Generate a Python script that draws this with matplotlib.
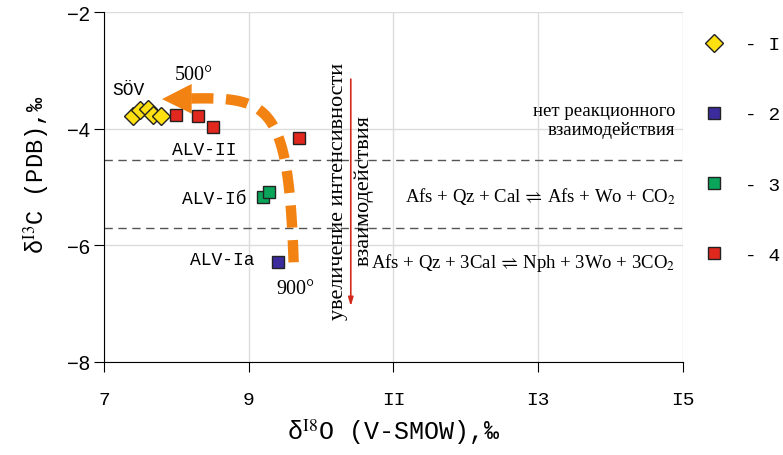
import numpy as np
import matplotlib
matplotlib.use("Agg")
import matplotlib.pyplot as plt
from matplotlib.patches import Polygon

plt.rcParams['mathtext.fontset'] = 'stix'
plt.rcParams['lines.scale_dashes'] = False

MONO = ['Liberation Mono', 'DejaVu Sans Mono']
SERIF = ['Liberation Serif', 'DejaVu Serif', 'DejaVu Sans']

# group 1 - SÖV (diamonds)
g1_x = [7.40, 7.50, 7.61, 7.68, 7.79]
g1_y = [-3.78, -3.67, -3.66, -3.77, -3.78]
# group 2 - ALV-Ia
g2_x = [9.40]
g2_y = [-6.29]
# group 3 - ALV-Iб
g3_x = [9.19, 9.28]
g3_y = [-5.17, -5.09]
# group 4 - ALV-II
g4_x = [7.99, 8.30, 8.51, 9.69]
g4_y = [-3.76, -3.78, -3.97, -4.16]

legend_labels = ['- I', '- 2', '- 3', '- 4']
xticks = [7, 9, 11, 13, 15]
xtick_labels = ['7', '9', 'II', 'I3', 'I5']
yticks = [-2, -4, -6, -8]
boundaries = [-4.53, -5.71]

fig = plt.figure(figsize=(7.83, 4.56), dpi=100)
ax = fig.add_axes([0.133, 0.204, 0.739, 0.767])
ax.set_xlim(7, 15)
ax.set_ylim(-8, -2)

ax.set_xticks(xticks)
ax.set_xticklabels(xtick_labels, family=MONO, fontsize=14)
ax.set_yticks(yticks)
ax.set_yticklabels([str(v).replace('-', '\u2212') for v in yticks],
                   family='Liberation Sans', fontsize=14.5)
ax.tick_params(axis='both', direction='out', length=7, width=0.8)
ax.tick_params(axis='x', pad=14)
ax.grid(True, color='#dcdcdc', lw=1)
ax.set_axisbelow(True)
for s in ['top', 'right']:
    ax.spines[s].set_visible(False)

for b in boundaries:
    ax.axhline(b, color='#555555', lw=1, dashes=(6, 4), zorder=1)

# orange curved arrow (temperature path)
p0 = np.array([9.62, -6.29])
p1 = np.array([9.55, -3.60])
p2 = np.array([9.30, -3.45])
p3 = np.array([8.19, -3.48])
t = np.linspace(0, 1, 200)[:, None]
curve = (1 - t) ** 3 * p0 + 3 * (1 - t) ** 2 * t * p1 + 3 * (1 - t) * t ** 2 * p2 + t ** 3 * p3
ax.plot(curve[:, 0], curve[:, 1], color='#F28313', lw=7.5, dashes=(16, 9),
        solid_capstyle='butt', dash_capstyle='butt', zorder=2)
ax.add_patch(Polygon([[7.80, -3.49], [8.21, -3.23], [8.21, -3.74]],
                     closed=True, color='#F28313', lw=0, zorder=2))

mk = dict(ls='none', markeredgecolor='#222222', markeredgewidth=1, zorder=4)
ax.plot(g1_x, g1_y, marker='D', ms=9.5, color='#FFE010', label=legend_labels[0], **mk)
ax.plot(g2_x, g2_y, marker='s', ms=8.5, color='#3A2C9C', label=legend_labels[1], **mk)
ax.plot(g3_x, g3_y, marker='s', ms=8.5, color='#0AA55A', label=legend_labels[2], **mk)
ax.plot(g4_x, g4_y, marker='s', ms=8.5, color='#E0281E', label=legend_labels[3], **mk)

# sample labels
ax.text(7.34, -3.33, 'SÖV', family=MONO, fontsize=13, ha='center', va='center')
ax.text(8.38, -4.36, 'ALV-II', family=MONO, fontsize=13, ha='center', va='center')
ax.text(8.97, -5.19, 'ALV-Iб', family=MONO, fontsize=13, ha='right', va='center')
ax.text(8.63, -6.24, 'ALV-Ia', family=MONO, fontsize=13, ha='center', va='center')
ax.text(8.24, -3.07, '500°', family=SERIF, fontsize=14.5, ha='center', va='center')
ax.text(9.65, -6.74, '900°', family=SERIF, fontsize=14.5, ha='center', va='center')

# vertical annotation with red arrow
ax.text(10.24, -5.05, 'увеличение интенсивности', family=SERIF, fontsize=16,
        rotation=90, ha='center', va='center')
ax.text(10.59, -5.05, 'взаимодействия', family=SERIF, fontsize=16,
        rotation=90, ha='center', va='center')
ax.annotate('', xy=(10.41, -7.09), xytext=(10.41, -3.10),
            arrowprops=dict(arrowstyle='-|>,head_length=0.5,head_width=0.15',
                            color='#D42A1E', lw=1.2))

# reaction fields
ax.text(14.9, -3.85, 'нет реакционного\nвзаимодействия', family=SERIF, fontsize=13.5,
        ha='right', va='center', multialignment='right', linespacing=1.15)
ax.text(14.9, -5.14, 'Afs + Qz + Cal$\\,\\rightleftharpoons\\,$Afs + Wo + CO$_2$',
        family=SERIF, fontsize=13.5, ha='right', va='center')
ax.text(14.9, -6.29, 'Afs + Qz + 3Cal$\\,\\rightleftharpoons\\,$Nph + 3Wo + 3CO$_2$',
        family=SERIF, fontsize=13.5, ha='right', va='center')

ax.set_xlabel('δ$^{\\mathrm{I8}}$O (V-SMOW),‰', family=MONO, fontsize=18, labelpad=6)
ax.set_ylabel('δ$^{\\mathrm{I3}}$C (PDB),‰', family=MONO, fontsize=17)
ax.yaxis.set_label_coords(-0.09, 0.54)

ax.legend(loc='upper left', bbox_to_anchor=(1.02, 0.955), frameon=False,
          prop={'family': MONO, 'size': 14}, labelspacing=2.7,
          handletextpad=1.0, handlelength=1.2, borderaxespad=0)

fig.savefig('out.png', dpi=100)
